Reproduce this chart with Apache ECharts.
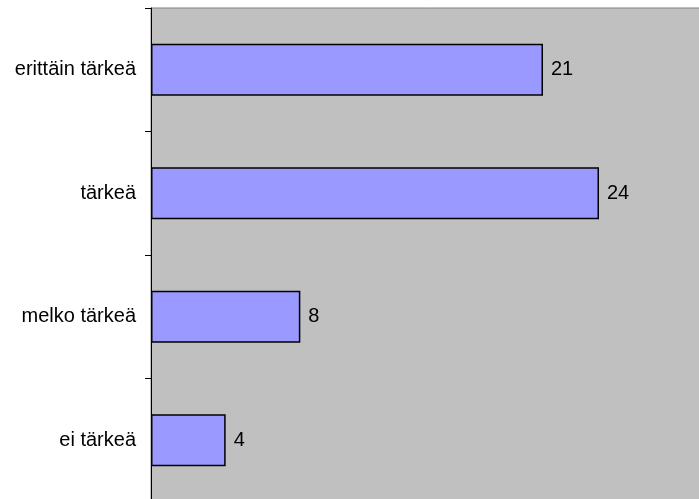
<!DOCTYPE html>
<html>
<head>
<meta charset="utf-8">
<script src="https://cdn.jsdelivr.net/npm/echarts@6/dist/echarts.min.js"></script>
<style>
html,body{margin:0;padding:0;background:#fff;}
#chart{width:699px;height:499px;}
</style>
</head>
<body>
<div id="chart"></div>
<script>
const categories = ["erittäin tärkeä", "tärkeä", "melko tärkeä", "ei tärkeä"];
const values = [21, 24, 8, 4];

const chart = echarts.init(document.getElementById('chart'), null, {renderer: 'canvas'});
chart.setOption({
  animation: false,
  backgroundColor: '#ffffff',
  grid: {
    left: 151, top: 8, width: 560, height: 494,
    outerBoundsMode: 'none',
    show: true, backgroundColor: '#C0C0C0', borderColor: '#808080', borderWidth: 1,
    containLabel: false
  },
  xAxis: {
    type: 'value', min: 0, max: 30, show: false,
    splitLine: {show: false}
  },
  yAxis: {
    type: 'category', data: categories, inverse: true,
    axisLine: {show: true, lineStyle: {color: '#000', width: 1}},
    axisTick: {show: true, length: 6, inside: false, lineStyle: {color: '#000'}},
    axisLabel: {margin: 15, color: '#000', fontSize: 20, fontFamily: 'Liberation Sans, Arial, sans-serif'},
    splitLine: {show: false}
  },
  series: [{
    type: 'bar',
    data: values,
    barWidth: 52,
    itemStyle: {color: '#9999FF', borderColor: '#000', borderWidth: 1.5},
    label: {
      show: true, position: 'right', distance: 8, color: '#000',
      fontSize: 20, fontFamily: 'Liberation Sans, Arial, sans-serif'
    }
  }]
});
</script>
</body>
</html>
